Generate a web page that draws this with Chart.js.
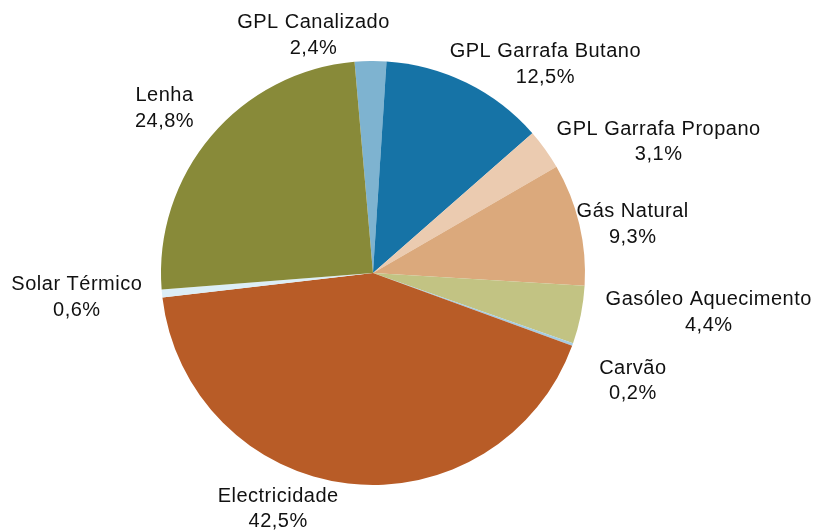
<!DOCTYPE html>
<html>
<head>
<meta charset="utf-8">
<script src="https://cdn.jsdelivr.net/npm/chart.js@4/dist/chart.umd.min.js"></script>
<style>
  html, body { margin: 0; padding: 0; background: #fff; }
  #wrap { width: 816px; height: 532px; }
</style>
</head>
<body>
<div id="wrap"><canvas id="pie" width="816" height="532"></canvas></div>
<script>
// dados (%)
const categorias = ['GPL Canalizado', 'GPL Garrafa Butano', 'GPL Garrafa Propano', 'Gás Natural',
    'Gasóleo Aquecimento', 'Carvão', 'Electricidade', 'Solar Térmico', 'Lenha'];
const valores = [2.4, 12.5, 3.1, 9.3, 4.4, 0.2, 42.5, 0.6, 24.8];
const cores = ['#7EB3D0', '#1673A6', '#EBCBB0', '#DBA97C', '#C2C383', '#A5CCE2', '#B85C27', '#DCEEF6', '#888A39'];

// ajuste fino da posição das etiquetas (px)
const ajusteEtiquetas = [[-56, 8], [33, 12], [24, 12], [-9, 8], [19, -9], [21, 25], [-62, -8], [-12, 1], [-18, -6]];

const fmt = v => v.toFixed(1).replace('.', ',') + '%';

const etiquetas = {
    id: 'etiquetas',
    afterDatasetsDraw(chart) {
        const ctx = chart.ctx;
        const meta = chart.getDatasetMeta(0);
        ctx.save();
        ctx.font = '20px "Liberation Sans", Arial, sans-serif';
        ctx.letterSpacing = '0.5px';
        ctx.fillStyle = '#111';
        ctx.textAlign = 'center';
        ctx.textBaseline = 'middle';
        const lh = 25.5;
        meta.data.forEach((arc, i) => {
            const p = arc.getProps(['x', 'y', 'startAngle', 'endAngle', 'outerRadius'], true);
            const mid = (p.startAngle + p.endAngle) / 2;
            const dx = Math.cos(mid), dy = Math.sin(mid);
            const l1 = categorias[i], l2 = fmt(valores[i]);
            const w = Math.max(ctx.measureText(l1).width, ctx.measureText(l2).width);
            const h = lh * 2;
            const r = p.outerRadius + 8;
            const cx = p.x + dx * r + dx * w / 2 + ajusteEtiquetas[i][0];
            const cy = p.y + dy * r + dy * h / 2 + ajusteEtiquetas[i][1];
            ctx.fillText(l1, cx, cy - lh / 2);
            ctx.fillText(l2, cx, cy + lh / 2);
        });
        ctx.restore();
    }
};

new Chart(document.getElementById('pie').getContext('2d'), {
    type: 'pie',
    data: {
        labels: categorias,
        datasets: [{
            data: valores,
            backgroundColor: cores,
            borderWidth: 0
        }]
    },
    options: {
        responsive: false,
        animation: false,
        rotation: -5,
        layout: {padding: {left: 161, right: 231, top: 61, bottom: 47}},
        plugins: {legend: {display: false}, tooltip: {enabled: false}}
    },
    plugins: [etiquetas]
});
</script>
</body>
</html>
